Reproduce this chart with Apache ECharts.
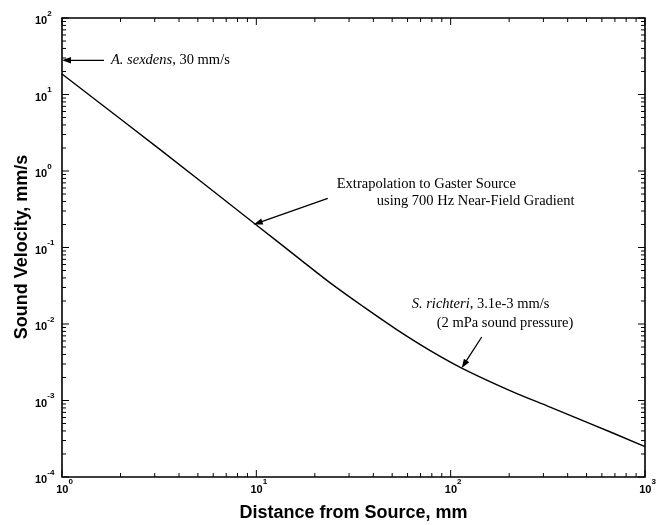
<!DOCTYPE html>
<html><head><meta charset="utf-8">
<script src="https://cdn.jsdelivr.net/npm/echarts@6/dist/echarts.min.js"></script>
<style>html,body{margin:0;padding:0;background:#fff}#c{width:665px;height:525px}</style>
</head><body><div id="c"></div>
<script>
// ---- data ----
const distance = [1, 3.2, 10, 16.8, 24, 35.6, 53, 78.5, 116, 202, 325, 522, 1000];
const velocity = [18.5, 1.9, 0.197, 0.070, 0.0345, 0.0168, 0.0084, 0.0045, 0.0026, 0.00135, 0.00082, 0.0005, 0.00025];
const xDecades = [1, 10, 100, 1000];
const yDecades = [1e-4, 1e-3, 1e-2, 1e-1, 1, 10, 100];
const minorSteps = [2, 3, 4, 5, 6, 7, 8, 9];
const xTitle = 'Distance from Source, mm';
const yTitle = 'Sound Velocity, mm/s';
const noteTargets = [[1, 28], [9.7, 0.2], [114, 0.00266]];
const noteTexts = [
  ['{i|A. sexdens}, 30 mm/s'],
  ['Extrapolation to Gaster Source', 'using 700 Hz Near-Field Gradient'],
  ['{i|S. richteri}, 3.1e-3 mm/s', '(2 mPa sound pressure)']
];

// ---- layout ----
const X_MIN = xDecades[0], X_MAX = xDecades[xDecades.length - 1];
const Y_MIN = yDecades[0], Y_MAX = yDecades[yDecades.length - 1];
const tailOffsets = [[42, 0], [74, -26], [20, -31]];
const textOffsets = [[[49, 0]], [[83, -40], [123, -23]], [[-50, -64], [-25, -45]]];

function buildTicks(decades) {
  const out = [];
  decades.forEach((d, i) => {
    out.push([d, 1]);
    if (i < decades.length - 1) minorSteps.forEach(m => out.push([d * m, 0]));
  });
  return out;
}
const xTicks = buildTicks(xDecades).map(t => [t[0], Y_MIN, t[1]]);
const yTicks = buildTicks(yDecades).map(t => [X_MIN, t[0], t[1]]);

const sansBold = {fontFamily: 'Liberation Sans', fontWeight: 'bold', color: '#000'};
const labelRich = {
  b: Object.assign({fontSize: 11, lineHeight: 17, verticalAlign: 'bottom'}, sansBold),
  s: Object.assign({fontSize: 8, verticalAlign: 'top'}, sansBold),
  p: Object.assign({fontSize: 11, lineHeight: 17, verticalAlign: 'bottom', padding: [0, 0, 0, 5]}, sansBold)
};
function expLabel(v, pad) {
  const e = Math.round(Math.log10(v));
  return '{' + (pad ? 'p' : 'b') + '|10}{s|' + e + '}';
}

const chart = echarts.init(document.getElementById('c'), null, {renderer: 'canvas'});
const option = {
  animation: false,
  backgroundColor: '#fff',
  grid: {left: 62, right: 20, top: 18, bottom: 48, show: true, borderColor: '#000', borderWidth: 1.6, backgroundColor: 'transparent'},
  xAxis: {
    type: 'log', min: X_MIN, max: X_MAX, logBase: 10,
    axisLine: {show: false}, axisTick: {show: false}, splitLine: {show: false}, minorTick: {show: false},
    axisLabel: {margin: 1, formatter: v => expLabel(v, true), rich: labelRich}
  },
  yAxis: {
    type: 'log', min: Y_MIN, max: Y_MAX, logBase: 10,
    axisLine: {show: false}, axisTick: {show: false}, splitLine: {show: false}, minorTick: {show: false},
    axisLabel: {margin: 27, align: 'left', formatter: v => expLabel(v, false), rich: labelRich}
  },
  series: [
    {
      type: 'line', data: distance.map((d, i) => [d, velocity[i]]),
      showSymbol: false, symbol: 'none', smooth: 0.35,
      lineStyle: {color: '#000', width: 1.4}, z: 3
    },
    {
      type: 'custom', data: xTicks, z: 4, silent: true,
      renderItem: (params, api) => {
        const x = api.value(0), major = api.value(2);
        const len = major ? 7 : 4;
        const b = api.coord([x, Y_MIN]), t = api.coord([x, Y_MAX]);
        return {type: 'group', children: [
          {type: 'line', shape: {x1: b[0], y1: b[1], x2: b[0], y2: b[1] - len}, style: {stroke: '#000', lineWidth: 1}},
          {type: 'line', shape: {x1: t[0], y1: t[1], x2: t[0], y2: t[1] + len}, style: {stroke: '#000', lineWidth: 1}}
        ]};
      }
    },
    {
      type: 'custom', data: yTicks, z: 4, silent: true,
      renderItem: (params, api) => {
        const y = api.value(1), major = api.value(2);
        const len = major ? 7 : 4;
        const l = api.coord([X_MIN, y]), r = api.coord([X_MAX, y]);
        return {type: 'group', children: [
          {type: 'line', shape: {x1: l[0], y1: l[1], x2: l[0] + len, y2: l[1]}, style: {stroke: '#000', lineWidth: 1}},
          {type: 'line', shape: {x1: r[0], y1: r[1], x2: r[0] - len, y2: r[1]}, style: {stroke: '#000', lineWidth: 1}}
        ]};
      }
    }
  ]
};
chart.setOption(option);

// ---- titles and annotations ----
const serif = 'Liberation Serif';
const graphics = [
  {type: 'text', x: 353.5, y: 513, style: {text: xTitle, fill: '#000', font: 'bold 18px "Liberation Sans"', textAlign: 'center', textVerticalAlign: 'middle'}},
  {type: 'text', x: 22, y: 247, rotation: Math.PI / 2, style: {text: yTitle, fill: '#000', font: 'bold 18px "Liberation Sans"', textAlign: 'center', textVerticalAlign: 'middle'}}
];
noteTargets.forEach((tg, i) => {
  const tip = chart.convertToPixel({gridIndex: 0}, tg);
  const tail = [tip[0] + tailOffsets[i][0], tip[1] + tailOffsets[i][1]];
  const dx = tip[0] - tail[0], dy = tip[1] - tail[1];
  const L = Math.hypot(dx, dy), ux = dx / L, uy = dy / L, nx = -uy, ny = ux;
  const HL = 9, HW = 3.2;
  graphics.push({type: 'line', shape: {x1: tail[0], y1: tail[1], x2: tip[0] - ux * HL * 0.6, y2: tip[1] - uy * HL * 0.6}, style: {stroke: '#000', lineWidth: 1.3}});
  graphics.push({type: 'polygon', shape: {points: [
    [tip[0], tip[1]],
    [tip[0] - ux * HL + nx * HW, tip[1] - uy * HL + ny * HW],
    [tip[0] - ux * HL - nx * HW, tip[1] - uy * HL - ny * HW]
  ]}, style: {fill: '#000'}});
  noteTexts[i].forEach((txt, j) => {
    const off = textOffsets[i][j];
    graphics.push({type: 'text', x: tip[0] + off[0], y: tip[1] + off[1], style: {
      text: txt, fill: '#000', fontFamily: serif, fontSize: 14.5,
      textAlign: 'left', textVerticalAlign: 'middle',
      rich: {i: {fontFamily: serif, fontSize: 14.5, fontStyle: 'italic', fill: '#000'}}
    }});
  });
});
chart.setOption({graphic: graphics});
</script>
</body></html>
